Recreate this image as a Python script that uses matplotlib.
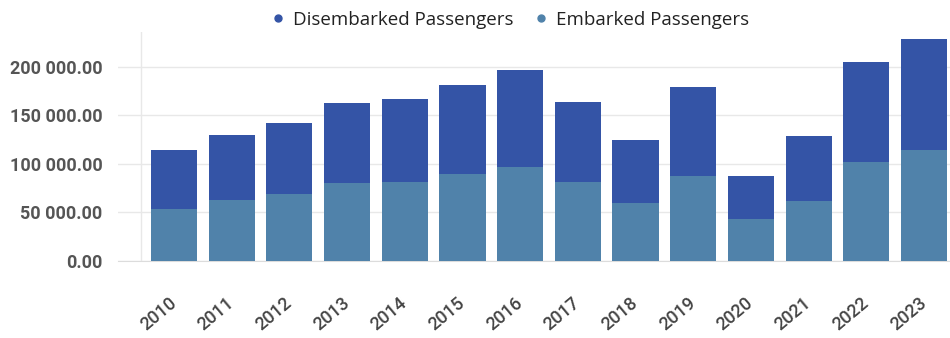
import numpy as np
import matplotlib

matplotlib.use('Agg')
import matplotlib.pyplot as plt
from matplotlib.ticker import FuncFormatter
from matplotlib.lines import Line2D

# passenger counts per year
years = ['2010', '2011', '2012', '2013', '2014', '2015', '2016',
         '2017', '2018', '2019', '2020', '2021', '2022', '2023']
embarked = [53600, 63000, 69000, 80000, 81500, 89700, 97000,
            81500, 59800, 87600, 43300, 61900, 102000, 114400]
disembarked_total = [114400, 130000, 142000, 163000, 167000, 181000, 197000,
                     164000, 124700, 179000, 87600, 128900, 205000, 229000]
disembarked = [t - e for t, e in zip(disembarked_total, embarked)]

c_emb = '#5082AA'
c_dis = '#3454A6'

fig = plt.figure(figsize=(9.5, 3.38), dpi=100)
ax = fig.add_axes([118 / 950, 1 - 261 / 338, 832 / 950, 229 / 338])

x = np.arange(len(years))
ax.bar(x, embarked, width=0.8, color=c_emb, label='Embarked Passengers', zorder=3)
ax.bar(x, disembarked, width=0.8, bottom=embarked, color=c_dis,
       label='Disembarked Passengers', zorder=3)

ax.set_xlim(-0.97, 13.45)
ax.set_ylim(0, 236000)

ax.set_yticks([0, 50000, 100000, 150000, 200000])
ax.yaxis.set_major_formatter(FuncFormatter(lambda v, p: f'{v:,.2f}'.replace(',', ' ')))
ax.grid(axis='y', color='#e8e8e8', linewidth=1, zorder=0)
ax.axvline(-0.57, color='#e8e8e8', linewidth=1, zorder=0)

for s in ['top', 'right', 'left']:
    ax.spines[s].set_visible(False)
ax.spines['bottom'].set_color('#dcdcdc')

ax.tick_params(axis='y', length=0, pad=11, labelsize=13, labelcolor='#555555')
for lab in ax.get_yticklabels():
    lab.set_fontweight('bold')
    lab.set_fontfamily('Roboto')

ax.set_xticks(x)
ax.set_xticklabels(years, rotation=40, ha='right', va='center', rotation_mode='anchor',
                   fontsize=13, color='#444444', fontfamily='Roboto',
                   fontweight='medium')
ax.tick_params(axis='x', length=0, pad=29)

handles = [Line2D([], [], marker='o', linestyle='', markersize=5, color=c_dis),
           Line2D([], [], marker='o', linestyle='', markersize=5, color=c_emb)]
leg = fig.legend(handles, ['Disembarked Passengers', 'Embarked Passengers'],
                 loc='center', bbox_to_anchor=(509 / 950, 1 - 20 / 338), ncol=2,
                 frameon=False, handletextpad=0.3, columnspacing=1.0,
                 handlelength=1.0, prop={'family': 'Open Sans', 'size': 13.5})
for t in leg.get_texts():
    t.set_color('#222222')

fig.savefig('out.png', dpi=100)
